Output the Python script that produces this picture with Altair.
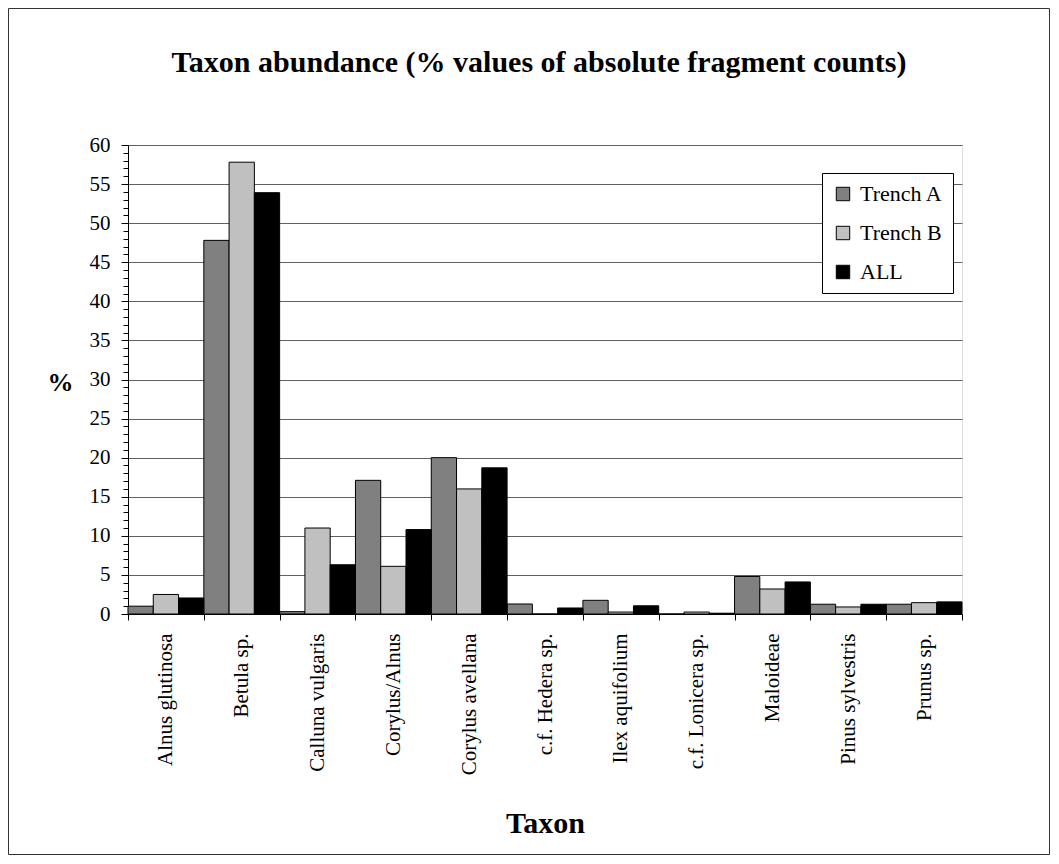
import altair as alt
import pandas as pd

taxa = ["Alnus glutinosa", "Betula sp.", "Calluna vulgaris", "Corylus/Alnus",
        "Corylus avellana", "c.f. Hedera sp.", "Ilex aquifolium",
        "c.f. Lonicera sp.", "Maloideae", "Pinus sylvestris", "Prunus sp."]
series_names = ["Trench A", "Trench B", "ALL"]
trench_a = [1.0, 47.8, 0.3, 17.1, 20.0, 1.28, 1.75, 0.0, 4.8, 1.25, 1.25]
trench_b = [2.5, 57.8, 11.0, 6.1, 16.0, 0.0, 0.25, 0.25, 3.2, 0.9, 1.45]
all_vals = [2.05, 53.9, 6.3, 10.8, 18.7, 0.77, 1.05, 0.1, 4.1, 1.25, 1.55]
colors = ["#808080", "#C0C0C0", "#000000"]
y_ticks = list(range(0, 61))
title_text = ["Taxon abundance (% values of absolute fragment counts)"]

rows = []
for name, vals in zip(series_names, [trench_a, trench_b, all_vals]):
    for t, v in zip(taxa, vals):
        rows.append({"taxon": t, "series": name, "value": v})
df = pd.DataFrame(rows)

FONT = "Liberation Serif"
W, H = 834, 469

bars = alt.Chart(df).mark_bar(stroke="black", strokeWidth=1, opacity=1).encode(
    x=alt.X("taxon:N", sort=taxa,
            scale=alt.Scale(paddingInner=0, paddingOuter=0),
            axis=alt.Axis(title="Taxon", labelAngle=270, labelAlign="right",
                          labelBaseline="middle", labelFont=FONT, labelFontSize=21,
                          labelColor="black", labelPadding=13, labelLimit=300,
                          tickBand="extent", tickSize=6, tickColor="black",
                          domainColor="black", grid=False,
                          titleFont=FONT, titleFontSize=30, titleFontWeight="bold",
                          titleColor="black", titleX=W / 2, titleY=218,
                          titleAlign="center", titleBaseline="alphabetic")),
    xOffset=alt.XOffset("series:N", sort=series_names,
                        scale=alt.Scale(paddingInner=0, paddingOuter=0)),
    y=alt.Y("value:Q", scale=alt.Scale(domain=[0, 60], nice=False),
            axis=alt.Axis(title="%", values=y_ticks,
                          labelExpr="datum.value % 5 === 0 ? datum.label : ''",
                          labelOverlap=False, labelFont=FONT, labelFontSize=21,
                          labelColor="black", labelPadding=11,
                          tickSize={"condition": {"test": "datum.value % 5 === 0", "value": 7}, "value": 5},
                          tickColor="black", domainColor="black",
                          grid=True, gridColor="#606060", gridWidth=1,
                          gridOpacity={"condition": {"test": "datum.value % 5 === 0", "value": 1}, "value": 0},
                          titleFont=FONT, titleFontSize=26, titleFontWeight="bold",
                          titleColor="black", titleAngle=0, titleX=-68, titleY=245,
                          titleAlign="center", titleBaseline="alphabetic")),
    color=alt.Color("series:N", sort=series_names,
                    scale=alt.Scale(domain=series_names, range=colors),
                    legend=alt.Legend(title=None, orient="none", legendX=694, legendY=28,
                                      symbolType="square", symbolSize=180,
                                      symbolStrokeColor="black", symbolStrokeWidth=1,
                                      symbolOpacity=1,
                                      labelFont=FONT, labelFontSize=22, labelColor="black",
                                      labelOffset=6, rowPadding=17, padding=10,
                                      fillColor="white", strokeColor="black")),
)

frame = alt.Chart(pd.DataFrame({"k": [0]})).mark_rect(
    fillOpacity=0, stroke="#333333", strokeWidth=1
).encode(
    x=alt.value(-119.5), x2=alt.value(921.5),
    y=alt.value(-136.5), y2=alt.value(709.5)
)

title = alt.Chart(pd.DataFrame({"t": title_text})).mark_text(
    font=FONT, fontSize=30, fontWeight="bold", color="black",
    align="center", baseline="alphabetic"
).encode(
    text="t:N", x=alt.value(W / 2 - 6), y=alt.value(-73)
)

chart = alt.layer(bars, frame, title).properties(
    width=W, height=H,
    autosize=alt.AutoSizeParams(type="none"),
    padding={"left": 120, "top": 137, "right": 88, "bottom": 241},
).configure_view(fill="#E0E0E0", stroke="#808080", strokeWidth=1
).configure(background="white")

chart.save("out.html", embed_options={"renderer": "svg", "actions": False})
